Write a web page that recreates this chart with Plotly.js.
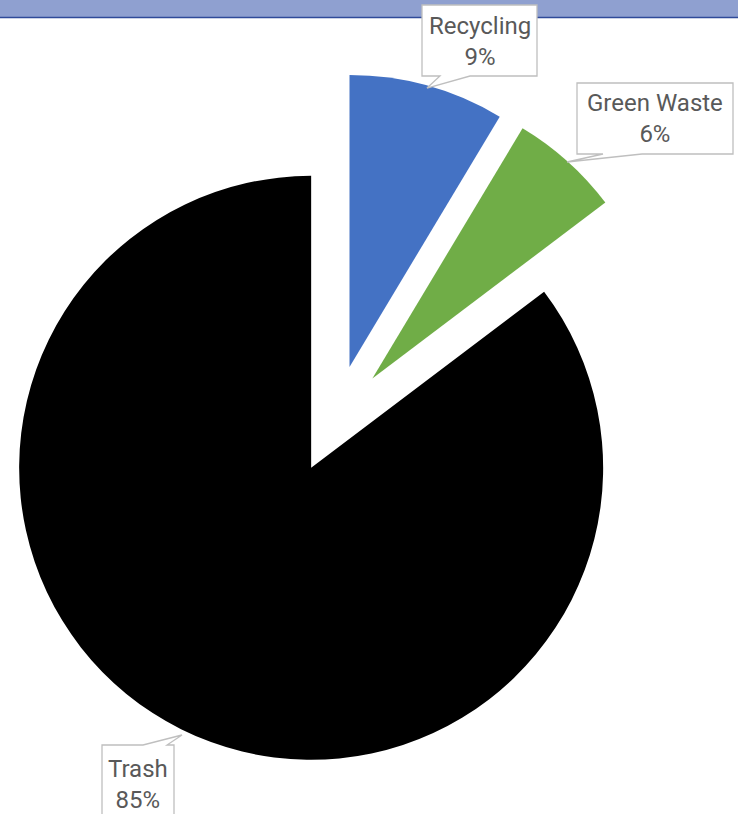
<!DOCTYPE html>
<html>
<head>
<meta charset="utf-8">
<script src="https://cdn.plot.ly/plotly-3.0.1.min.js"></script>
<style>
  html, body { margin: 0; padding: 0; overflow: hidden; background: #ffffff; width: 738px; height: 814px; }
  #chart { position: absolute; left: -20px; top: 0; }
</style>
</head>
<body>
<div id="chart"></div>
<script>
// ---- data ----
const categories = ['Recycling', 'Green Waste', 'Trash'];
const values = [8.6, 6.1, 85.3];

// ---- layout helpers (pixel -> paper) ----
const OFF = 20, W = 758, H = 814;
const X = px => (px + OFF) / W;
const Y = py => 1 - py / H;

const total = values.reduce((a, b) => a + b, 0);
const pctText = values.map(v => Math.round(v / total * 100) + '%');

// pie geometry
const cx = 334.7 + OFF, cy = 420.5, R = 292;
const pulls = [0.190, 0.193, 0.181];
const maxPull = Math.max(...pulls);
const half = R * (1 + maxPull);

const trace = {
  type: 'pie',
  labels: categories,
  values: values,
  sort: false,
  direction: 'clockwise',
  rotation: 0,
  pull: pulls,
  textinfo: 'none',
  hoverinfo: 'label+percent',
  marker: { colors: ['#4472C4', '#70AD47', '#000000'], line: { width: 0 } },
  domain: {
    x: [(cx - half) / W, (cx + half) / W],
    y: [1 - (cy + half) / H, 1 - (cy - half) / H]
  },
  showlegend: false
};

// callout boxes (pixel coordinates of box + pointer)
function calloutPath(pts) {
  return 'M ' + pts.map(p => X(p[0]).toFixed(5) + ' ' + Y(p[1]).toFixed(5)).join(' L ') + ' Z';
}
const callouts = [
  [[422, 5], [537, 5], [537, 76], [470, 76], [427, 88], [440, 76], [422, 76]],
  [[577, 83], [733, 83], [733, 154], [642, 154], [567, 162], [603, 154], [577, 154]],
  [[102, 745], [143, 745], [182, 735], [167, 745], [174, 745], [174, 840], [102, 840]]
];
const labelCenters = [[479.5, 41], [655, 118.5], [138, 784]];

const shapes = [
  { type: 'rect', xref: 'paper', yref: 'paper', x0: 0, x1: 1, y0: Y(17), y1: 1,
    fillcolor: '#8FA0D0', line: { width: 0 }, layer: 'above' },
  { type: 'line', xref: 'paper', yref: 'paper', x0: 0, x1: 1, y0: Y(17.5), y1: Y(17.5),
    line: { color: '#2F4A99', width: 1.5 }, layer: 'above' }
].concat(callouts.map(pts => ({
  type: 'path', xref: 'paper', yref: 'paper', path: calloutPath(pts),
  fillcolor: '#FFFFFF', line: { color: '#BFBFBF', width: 1.3 }, layer: 'above'
})));

const annotations = categories.map((c, i) => ({
  xref: 'paper', yref: 'paper',
  x: X(labelCenters[i][0]), y: Y(labelCenters[i][1]),
  xanchor: 'center', yanchor: 'middle',
  text: c + '<br>' + pctText[i],
  showarrow: false,
  align: 'center',
  font: { family: 'Roboto, "Open Sans", sans-serif', size: 24, color: '#595959' }
}));

const layout = {
  width: W, height: H,
  margin: { l: 0, r: 0, t: 0, b: 0 },
  paper_bgcolor: '#FFFFFF',
  showlegend: false,
  shapes: shapes,
  annotations: annotations
};

Plotly.newPlot('chart', [trace], layout, { displayModeBar: false, staticPlot: true });
</script>
</body>
</html>
